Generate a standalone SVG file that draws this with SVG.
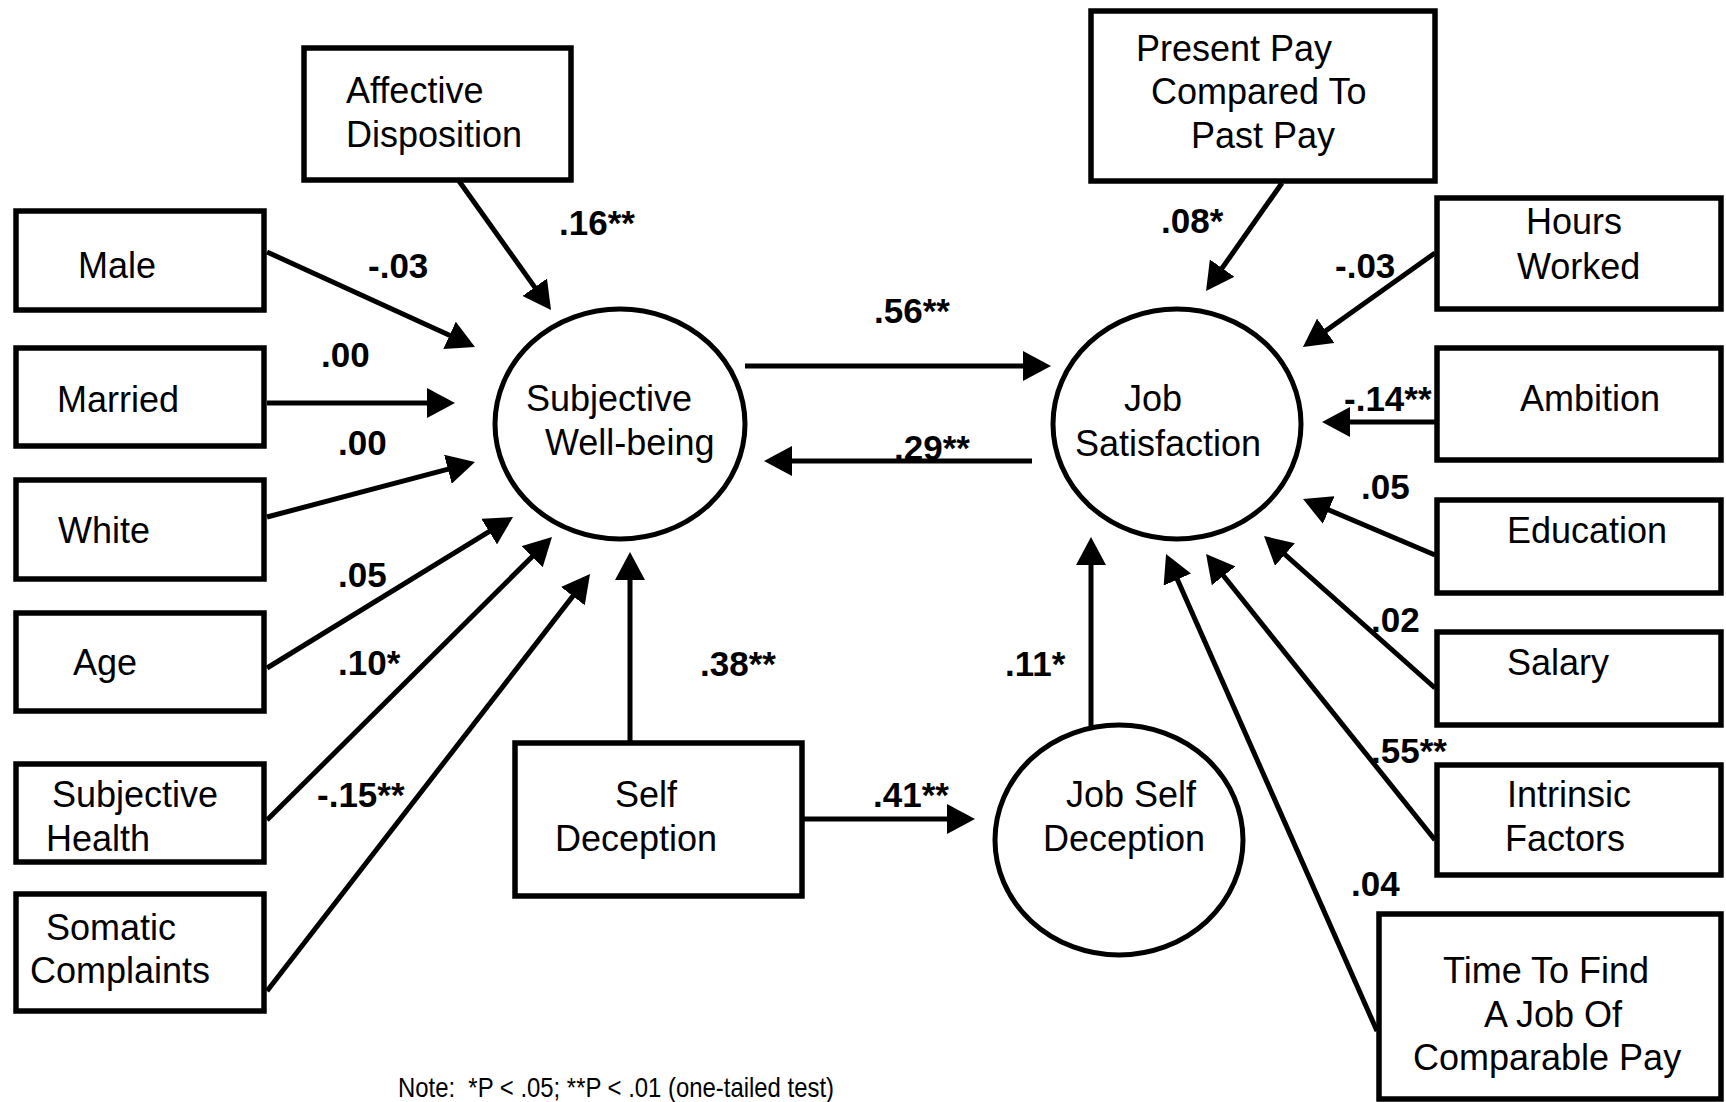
<svg xmlns="http://www.w3.org/2000/svg" width="1726" height="1102" viewBox="0 0 1726 1102">
<style>
.box{fill:#fff;stroke:#000;stroke-width:5.5}
.oval{fill:#fff;stroke:#000;stroke-width:5}
.t{font-family:"Liberation Sans",Arial,sans-serif;font-size:36px;fill:#000}
.lbl{font-family:"Liberation Sans",Arial,sans-serif;font-size:35px;font-weight:bold;fill:#000}
.c{stroke:#000;stroke-width:5;fill:none;marker-end:url(#ah)}
.note{font-family:"Liberation Sans",Arial,sans-serif;font-size:28px;fill:#000}
</style>
<defs>
<marker id="ah" viewBox="0 0 28 30" markerWidth="28" markerHeight="30" refX="18" refY="15" orient="auto" markerUnits="userSpaceOnUse">
<path d="M0,0 L28,15 L0,30 z" fill="#000"/>
</marker>
</defs>
<rect width="1726" height="1102" fill="#fff"/>

<g id="connectors">
<line class="c" x1="459" y1="181" x2="545.2" y2="301.9"/>
<line class="c" x1="267" y1="252" x2="465.9" y2="342.8"/>
<line class="c" x1="267" y1="403" x2="445" y2="403"/>
<line class="c" x1="267" y1="517" x2="465.3" y2="464.6"/>
<line class="c" x1="267" y1="668" x2="504.5" y2="522.2"/>
<line class="c" x1="267" y1="820" x2="544.9" y2="544.0"/>
<line class="c" x1="267" y1="991" x2="583.9" y2="581.9"/>
<line class="c" x1="630" y1="741" x2="630" y2="562"/>
<line class="c" x1="745" y1="366" x2="1041" y2="366"/>
<line class="c" x1="1032" y1="461" x2="774" y2="461"/>
<line class="c" x1="804" y1="819" x2="965" y2="819"/>
<line class="c" x1="1091" y1="726" x2="1091" y2="547"/>
<line class="c" x1="1282" y1="183" x2="1211.8" y2="282.8"/>
<line class="c" x1="1435" y1="253" x2="1311.1" y2="341.2"/>
<line class="c" x1="1435" y1="422" x2="1332" y2="422"/>
<line class="c" x1="1435" y1="555" x2="1312.2" y2="502.9"/>
<line class="c" x1="1435" y1="688" x2="1271.5" y2="542.6"/>
<line class="c" x1="1435" y1="840" x2="1212.3" y2="561.8"/>
<line class="c" x1="1377" y1="1031" x2="1170.1" y2="563.1"/>
</g>

<g id="labels">
<text class="lbl" x="559" y="235">.16**</text>
<text class="lbl" x="368" y="278">-.03</text>
<text class="lbl" x="321" y="367">.00</text>
<text class="lbl" x="338" y="455">.00</text>
<text class="lbl" x="338" y="587">.05</text>
<text class="lbl" x="338" y="675">.10*</text>
<text class="lbl" x="317" y="807">-.15**</text>
<text class="lbl" x="874" y="323">.56**</text>
<text class="lbl" x="894" y="460">.29**</text>
<text class="lbl" x="700" y="676">.38**</text>
<text class="lbl" x="1005" y="676">.11*</text>
<text class="lbl" x="873" y="807">.41**</text>
<text class="lbl" x="1161" y="233">.08*</text>
<text class="lbl" x="1335" y="278">-.03</text>
<text class="lbl" x="1344" y="411">-.14**</text>
<text class="lbl" x="1361" y="499">.05</text>
<text class="lbl" x="1371" y="632">.02</text>
<text class="lbl" x="1371" y="763">.55**</text>
<text class="lbl" x="1351" y="896">.04</text>
</g>

<g id="affective"><rect class="box" x="304" y="48" width="267" height="132"/><text class="t" x="346" y="103">Affective</text><text class="t" x="346" y="147">Disposition</text></g>
<g id="male"><rect class="box" x="16" y="211" width="248" height="99"/><text class="t" x="78" y="278">Male</text></g>
<g id="married"><rect class="box" x="16" y="348" width="248" height="98"/><text class="t" x="57" y="412">Married</text></g>
<g id="white"><rect class="box" x="16" y="480" width="248" height="99"/><text class="t" x="58" y="543">White</text></g>
<g id="age"><rect class="box" x="16" y="613" width="248" height="98"/><text class="t" x="73" y="675">Age</text></g>
<g id="subjective-health"><rect class="box" x="16" y="764" width="248" height="98"/><text class="t" x="52" y="807">Subjective</text><text class="t" x="46" y="851">Health</text></g>
<g id="somatic-complaints"><rect class="box" x="16" y="894" width="248" height="117"/><text class="t" x="46" y="940">Somatic</text><text class="t" x="30" y="983">Complaints</text></g>
<g id="self-deception"><rect class="box" x="515" y="743" width="287" height="153"/><text class="t" x="615" y="807">Self</text><text class="t" x="555" y="851">Deception</text></g>
<g id="subjective-well-being"><ellipse class="oval" cx="620" cy="424" rx="125" ry="115"/><text class="t" x="526" y="411">Subjective</text><text class="t" x="545" y="455">Well-being</text></g>
<g id="job-satisfaction"><ellipse class="oval" cx="1177" cy="424" rx="124" ry="115"/><text class="t" x="1124" y="411">Job</text><text class="t" x="1075" y="456">Satisfaction</text></g>
<g id="job-self-deception"><ellipse class="oval" cx="1119" cy="840" rx="124" ry="115"/><text class="t" x="1066" y="807">Job Self</text><text class="t" x="1043" y="851">Deception</text></g>
<g id="present-pay"><rect class="box" x="1091" y="11" width="344" height="170"/><text class="t" x="1136" y="61">Present Pay</text><text class="t" x="1151" y="104">Compared To</text><text class="t" x="1191" y="148">Past Pay</text></g>
<g id="hours-worked"><rect class="box" x="1437" y="198" width="284" height="111"/><text class="t" x="1526" y="234">Hours</text><text class="t" x="1517" y="279">Worked</text></g>
<g id="ambition"><rect class="box" x="1437" y="348" width="284" height="112"/><text class="t" x="1520" y="411">Ambition</text></g>
<g id="education"><rect class="box" x="1437" y="500" width="284" height="93"/><text class="t" x="1507" y="543">Education</text></g>
<g id="salary"><rect class="box" x="1437" y="632" width="284" height="93"/><text class="t" x="1507" y="675">Salary</text></g>
<g id="intrinsic-factors"><rect class="box" x="1437" y="765" width="284" height="110"/><text class="t" x="1507" y="807">Intrinsic</text><text class="t" x="1505" y="851">Factors</text></g>
<g id="time-to-find"><rect class="box" x="1379" y="914" width="342" height="185"/><text class="t" x="1443" y="983">Time To Find</text><text class="t" x="1484" y="1027">A Job Of</text><text class="t" x="1413" y="1070">Comparable Pay</text></g>

<text class="note" x="398" y="1097" textLength="436" lengthAdjust="spacingAndGlyphs">Note:&#160; *P &lt; .05; **P &lt; .01 (one-tailed test)</text>
</svg>
